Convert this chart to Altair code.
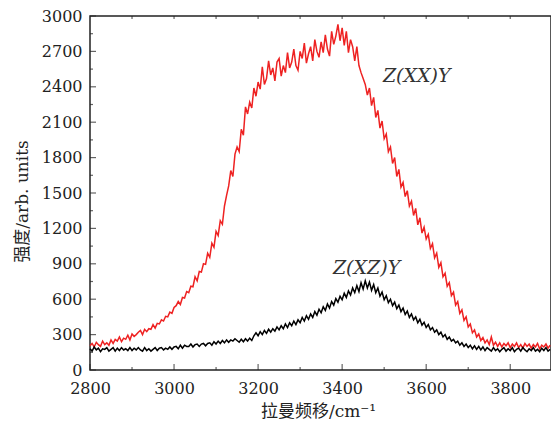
import altair as alt
import pandas as pd

# Raman shift grid start/step (cm^-1)
x_start = 2800
x_step = 5

# Z(XX)Y spectrum (red), every 5 cm^-1
red = [
    205, 225, 195, 235, 215, 200, 245, 215, 230, 210,
    255, 225, 260, 245, 280, 240, 270, 260, 295, 255,
    305, 285, 300, 320, 335, 300, 345, 325, 350, 345,
    385, 355, 395, 390, 425, 415, 455, 450, 490, 480,
    530, 545, 580, 555, 615, 610, 665, 655, 710, 705,
    790, 755, 835, 830, 900, 895, 990, 955, 1075, 1040,
    1175, 1140, 1265, 1235, 1390, 1480, 1560, 1690, 1640, 1830,
    1890, 1850, 2040, 1990, 2230, 2170, 2270, 2220, 2390, 2320,
    2440, 2380, 2570, 2420, 2470, 2620, 2500, 2560, 2450, 2610,
    2640, 2490, 2580, 2520, 2690, 2560, 2610, 2720, 2580, 2540,
    2700, 2640, 2770, 2600, 2680, 2740, 2620, 2800, 2700, 2650,
    2780, 2690, 2840, 2720, 2660, 2870, 2760, 2830, 2930, 2790,
    2900, 2750, 2870, 2690, 2800, 2740, 2620, 2740, 2580, 2520,
    2470, 2420, 2330, 2390, 2240, 2310, 2140, 2200, 2050, 2110,
    1960, 2000, 1850, 1890, 1750, 1800, 1640, 1700, 1550, 1590,
    1470, 1520, 1390, 1430, 1310, 1370, 1230, 1290, 1160, 1210,
    1110, 1150, 1030, 1070, 950, 990, 870, 910, 790, 820,
    710, 740, 630, 660, 550, 580, 480, 510, 420, 450,
    365, 390, 315, 340, 280, 305, 250, 275, 230, 255,
    215, 280, 210, 235, 200, 230, 195, 225, 205, 230,
    190, 220, 200, 230, 190, 215, 185, 225, 200, 220,
    185, 215, 195, 225, 180, 210, 195, 220, 185, 210,
]

# Z(XZ)Y spectrum (black)
black = [
    180, 160, 195, 170, 185, 155, 180, 175, 190, 160,
    175, 190, 160, 185, 165, 190, 170, 180, 165, 190,
    165, 185, 170, 190, 170, 160, 190, 165, 180, 160,
    175, 190, 165, 185, 190, 170, 185, 175, 195, 175,
    195, 200, 180, 210, 185, 210, 200, 200, 220, 195,
    215, 220, 200, 220, 225, 205, 225, 230, 210, 240,
    220, 245, 225, 250, 230, 255, 235, 255, 245, 265,
    250, 235, 260, 240, 265, 245, 270, 250, 290, 315,
    290, 325, 300, 335, 310, 345, 320, 350, 330, 365,
    340, 375, 350, 390, 360, 400, 375, 415, 385, 425,
    400, 445, 415, 460, 430, 475, 445, 495, 465, 515,
    485, 535, 505, 560, 525, 580, 550, 605, 575, 625,
    595, 650, 615, 670, 635, 695, 655, 715, 665, 740,
    685, 755, 695, 745, 675, 725, 655, 695, 625, 660,
    595, 630, 570, 600, 545, 575, 520, 550, 495, 525,
    470, 500, 445, 475, 425, 450, 400, 430, 380, 405,
    360, 385, 340, 360, 320, 340, 300, 320, 280, 300,
    260, 280, 245, 260, 230, 245, 210, 230, 200, 220,
    190, 210, 180, 205, 175, 200, 170, 195, 165, 190,
    175, 160, 190, 165, 180, 155, 175, 190, 160, 180,
    165, 190, 155, 175, 185, 160, 190, 170, 155, 180,
    165, 190, 160, 175, 155, 185, 165, 190, 160, 175,
]

# Axis tick values
x_ticks_major = [2800, 3000, 3200, 3400, 3600, 3800]
x_ticks_minor = [2900, 3100, 3300, 3500, 3700]
x_ticks_top = [2900, 3000, 3100, 3200, 3300, 3400, 3500, 3600, 3700, 3800]
y_ticks_major = [0, 300, 600, 900, 1200, 1500, 1800, 2100, 2400, 2700, 3000]
y_ticks_minor = [150, 450, 750, 1050, 1350, 1650, 1950, 2250, 2550, 2850]

# Annotations
ann_text = ["Z(XX)Y", "Z(XZ)Y"]
ann_x = [3497, 3378]
ann_y = [2495, 868]

W, H = 461, 354
SERIF = "DejaVu Serif"
MIXED = "DejaVu Serif, Noto Sans CJK SC"
INK = "#222222"

df_red = pd.DataFrame({"x": [x_start + i * x_step for i in range(len(red))], "y": red})
df_black = pd.DataFrame({"x": [x_start + i * x_step for i in range(len(black))], "y": black})

xscale = alt.Scale(domain=[2800, 3897], nice=False, zero=False)
yscale = alt.Scale(domain=[0, 3000], nice=False, zero=False)

xaxis = alt.Axis(
    values=x_ticks_major, format="d", ticks=False, domain=False, grid=False,
    labelFont=SERIF, labelFontSize=16, labelColor=INK, labelPadding=10,
    labelFlush=False,
    title="拉曼频移/cm⁻¹", titleFont=MIXED, titleFontSize=17,
    titleFontWeight="normal", titleColor=INK, titleBaseline="middle",
    titleX=228, titleY=41,
)
yaxis = alt.Axis(
    values=y_ticks_major, format="d", ticks=False, domain=False, grid=False,
    labelFont=SERIF, labelFontSize=16, labelColor=INK, labelPadding=8,
    labelFlush=False,
    title="强度/arb. units", titleFont=MIXED, titleFontSize=17,
    titleFontWeight="normal", titleColor=INK, titleBaseline="middle",
    titleAlign="center", titleX=-68, titleY=H / 2 + 8,
)

X = lambda f="x": alt.X(f, type="quantitative", scale=xscale, axis=xaxis)
Y = lambda f="y": alt.Y(f, type="quantitative", scale=yscale, axis=yaxis)

red_line = alt.Chart(df_red).mark_line(color="#ee2222", strokeWidth=1.5).encode(x=X(), y=Y())
black_line = alt.Chart(df_black).mark_line(color="#000000", strokeWidth=1.5).encode(x=X(), y=Y())

ticks_y_major = alt.Chart(pd.DataFrame({"y": y_ticks_major})).mark_tick(
    orient="horizontal", size=6, thickness=1.2, color=INK
).encode(y=Y(), x=alt.value(3))
ticks_y_minor = alt.Chart(pd.DataFrame({"y": y_ticks_minor})).mark_tick(
    orient="horizontal", size=3, thickness=1.2, color=INK
).encode(y=Y(), x=alt.value(1.5))
ticks_x_major = alt.Chart(pd.DataFrame({"x": x_ticks_major})).mark_tick(
    orient="vertical", size=6, thickness=1.2, color=INK
).encode(x=X(), y=alt.value(H - 3))
ticks_x_minor = alt.Chart(pd.DataFrame({"x": x_ticks_minor})).mark_tick(
    orient="vertical", size=3, thickness=1.2, color=INK
).encode(x=X(), y=alt.value(H - 1.5))
ticks_x_top = alt.Chart(pd.DataFrame({"x": x_ticks_top})).mark_tick(
    orient="vertical", size=3, thickness=1.2, color=INK
).encode(x=X(), y=alt.value(1.5))

labels = alt.Chart(pd.DataFrame({"x": ann_x, "y": ann_y, "t": ann_text})).mark_text(
    font=SERIF, fontSize=19, fontStyle="italic", align="left", baseline="middle", color="#333333"
).encode(x=X(), y=Y(), text="t:N")

chart = alt.layer(
    red_line, black_line, ticks_y_major, ticks_y_minor,
    ticks_x_major, ticks_x_minor, ticks_x_top, labels
).properties(
    width=W, height=H,
    autosize=alt.AutoSizeParams(type="none"),
    padding={"left": 90, "top": 16, "right": 0, "bottom": 62},
    background="white",
).configure_view(stroke=INK, strokeWidth=1.5)

chart.save("out.html", embed_options={"renderer": "svg", "actions": False})
